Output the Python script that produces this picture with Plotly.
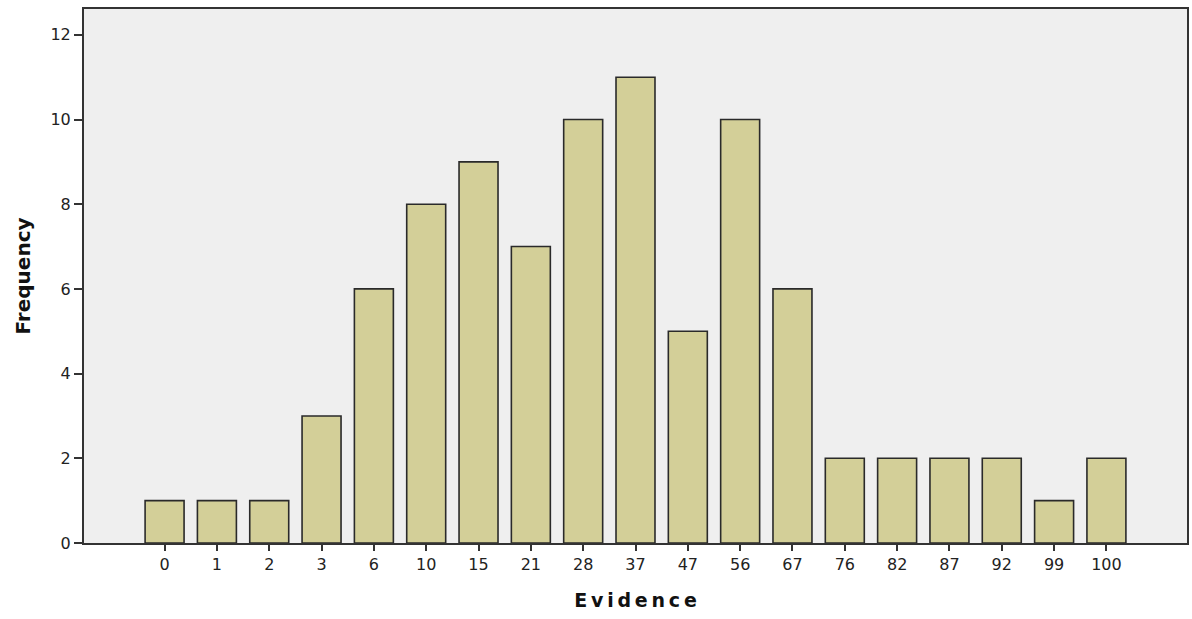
import plotly.graph_objects as go

categories = ["0", "1", "2", "3", "6", "10", "15", "21", "28", "37", "47", "56", "67", "76", "82", "87", "92", "99", "100"]
frequency = [1, 1, 1, 3, 6, 8, 9, 7, 10, 11, 5, 10, 6, 2, 2, 2, 2, 1, 2]
y_ticks = [0, 2, 4, 6, 8, 10, 12]

xpos = list(range(len(categories)))

fig = go.Figure(go.Bar(
    x=xpos, y=frequency, width=0.745,
    marker=dict(color="#D3CF98", line=dict(color="#2a2a2a", width=1.6)),
))

fig.update_layout(
    width=1192, height=619,
    margin=dict(l=84, r=5, t=9, b=76, autoexpand=False),
    plot_bgcolor="#EFEFEF", paper_bgcolor="white",
    font=dict(family="DejaVu Sans, Verdana", color="#222", size=16),
    showlegend=False,
    xaxis=dict(
        range=[-1.54, 19.54], tickmode="array", tickvals=xpos, ticktext=categories,
        ticks="outside", ticklen=6, tickwidth=2, tickcolor="#333",
        showline=True, linecolor="#333", linewidth=2, mirror=True,
        showgrid=False, zeroline=False, automargin=False,
        title=dict(text="<b>E\u2009v\u2009i\u2009d\u2009e\u2009n\u2009c\u2009e</b>",
                   font=dict(family="DejaVu Sans, Verdana", size=19, color="#111"), standoff=20),
        tickfont=dict(size=16),
    ),
    yaxis=dict(
        range=[0, 12.61], tickmode="array", tickvals=y_ticks,
        ticks="outside", ticklen=8, tickwidth=2, tickcolor="#333",
        showline=True, linecolor="#333", linewidth=2, mirror=True,
        showgrid=False, zeroline=False, automargin=False,
        title=dict(text="<b>Frequency</b>",
                   font=dict(family="DejaVu Sans, Verdana", size=20, color="#111"), standoff=14),
        tickfont=dict(size=16),
    ),
)

fig.write_html("out.html", config={"displayModeBar": False},
               post_script="document.body.style.margin='0';document.body.style.overflow='hidden';")
